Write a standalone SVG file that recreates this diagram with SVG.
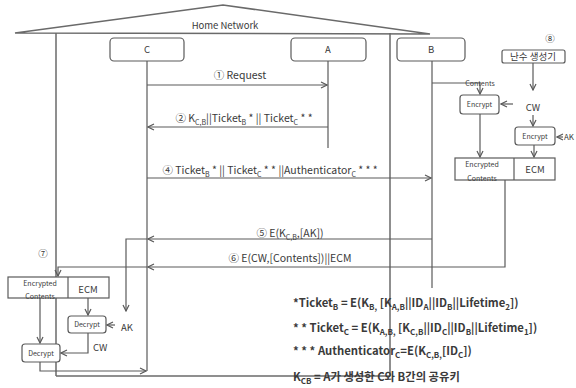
<svg xmlns="http://www.w3.org/2000/svg" width="576" height="388" viewBox="0 0 576 388">
<defs>
<style>
.ln{stroke:#5a5a5a;stroke-width:1.2;fill:none}
.wall{stroke:#6a6a6a;stroke-width:1.5;fill:none}
.box{fill:#fff;stroke:#5a5a5a;stroke-width:1.2}
text{font-family:"Noto Sans CJK KR","Liberation Sans",sans-serif;fill:#3a3a3a}
.msg{font-size:10.5px}
.sm{font-size:7px}
.md{font-size:9.5px}
.fn{font-size:11.3px;font-weight:600}
.c{text-anchor:middle}
</style>
<marker id="ar" viewBox="0 0 8 8" refX="7" refY="4" markerWidth="8" markerHeight="8" orient="auto" markerUnits="userSpaceOnUse">
<path d="M1,1 L7,4 L1,7" fill="none" stroke="#5a5a5a" stroke-width="1.2"/>
</marker>
</defs>
<rect width="576" height="388" fill="#fff"/>

<g id="house">
<polygon points="15,33 223,5 430,34" class="wall"/>
<line x1="56" y1="33" x2="56" y2="376" class="wall"/>
<line x1="390" y1="33" x2="390" y2="376" class="wall"/>
<line x1="56" y1="376" x2="390" y2="376" class="wall"/>
<text x="225" y="29" class="md c">Home Network</text>
</g>

<g id="node-C">
<rect x="110" y="38" width="74" height="23" rx="4" class="box"/>
<text x="147" y="53" class="md c">C</text>
</g>
<g id="node-A">
<rect x="291" y="38" width="75" height="23" rx="4" class="box"/>
<text x="328" y="53" class="md c">A</text>
</g>
<g id="node-B">
<rect x="397" y="38" width="68" height="23" rx="4" class="box"/>
<text x="431" y="53" class="md c">B</text>
</g>

<g id="rng">
<text x="550" y="42" class="md c">⑧</text>
<rect x="502" y="50" width="63" height="13" rx="2" class="box"/>
<text x="533" y="60" class="md c">난수 생성기</text>
</g>
<g id="encrypt1">
<rect x="460" y="95" width="39" height="19" rx="3" class="box"/>
<text x="479.5" y="107" class="sm c">Encrypt</text>
</g>
<g id="encrypt2">
<rect x="515" y="127" width="40" height="18" rx="3" class="box"/>
<text x="535" y="139" class="sm c">Encrypt</text>
</g>
<g id="enc-box-B">
<rect x="455" y="158" width="100" height="22" class="box"/>
<line x1="514" y1="158" x2="514" y2="180" class="ln"/>
<text x="482" y="167" class="sm c">Encrypted</text>
<text x="482" y="181" class="sm c">Contents</text>
<text x="535" y="173" class="md c">ECM</text>
</g>

<g id="enc-box-C">
<text x="43" y="257" class="md c">⑦</text>
<rect x="8" y="277" width="101" height="21" class="box"/>
<line x1="68" y1="277" x2="68" y2="298" class="ln"/>
<text x="40" y="286" class="sm c">Encrypted</text>
<text x="40" y="299" class="sm c">Contents</text>
<text x="88" y="293" class="md c">ECM</text>
</g>
<g id="decrypt1">
<rect x="68" y="316" width="38" height="17" rx="3" class="box"/>
<text x="87" y="327" class="sm c">Decrypt</text>
</g>
<g id="decrypt2">
<rect x="22" y="344" width="38" height="18" rx="3" class="box"/>
<text x="41" y="356" class="sm c">Decrypt</text>
</g>

<g id="connectors">
<line x1="147" y1="61" x2="147" y2="371" class="ln"/>
<line x1="328" y1="61" x2="328" y2="148" class="ln"/>
<line x1="432" y1="61" x2="432" y2="288" class="ln"/>
<line x1="147" y1="85" x2="327" y2="85" class="ln" marker-end="url(#ar)"/>
<line x1="328" y1="127" x2="148" y2="127" class="ln" marker-end="url(#ar)"/>
<line x1="147" y1="178" x2="431" y2="178" class="ln" marker-end="url(#ar)"/>
<line x1="432" y1="239" x2="148" y2="239" class="ln" marker-end="url(#ar)"/>
<path d="M147,239 H126 V311" class="ln" marker-end="url(#ar)"/>
<path d="M505,180 V267 H148" class="ln" marker-end="url(#ar)"/>
<path d="M147,267 H58 V276" class="ln" marker-end="url(#ar)"/>
<path d="M432,83 H480 V94" class="ln" marker-end="url(#ar)"/>
<line x1="533" y1="63" x2="533" y2="90" class="ln" marker-end="url(#ar)"/>
<line x1="533" y1="115" x2="533" y2="126" class="ln" marker-end="url(#ar)"/>
<line x1="513" y1="104" x2="501" y2="104" class="ln" marker-end="url(#ar)"/>
<line x1="563" y1="137" x2="557" y2="137" class="ln" marker-end="url(#ar)"/>
<line x1="480" y1="114" x2="480" y2="157" class="ln" marker-end="url(#ar)"/>
<line x1="534" y1="145" x2="534" y2="157" class="ln" marker-end="url(#ar)"/>
<line x1="88" y1="298" x2="88" y2="315" class="ln" marker-end="url(#ar)"/>
<line x1="115" y1="325" x2="107" y2="325" class="ln" marker-end="url(#ar)"/>
<path d="M88,333 V353 H61" class="ln" marker-end="url(#ar)"/>
<line x1="40" y1="298" x2="40" y2="343" class="ln" marker-end="url(#ar)"/>
<path d="M40,362 V371 H146" class="ln" marker-end="url(#ar)"/>
</g>

<g id="labels">
<text x="480" y="86" class="sm c">Contents</text>
<text x="533" y="111" class="md c">CW</text>
<text x="564" y="140" font-size="8">AK</text>
<text x="121" y="331" class="md">AK</text>
<text x="93" y="351" class="md">CW</text>
<text x="240" y="79" class="msg c">① Request</text>
<text x="244" y="122" class="msg c">② K<tspan dy="2.5" font-size="7">C,B</tspan><tspan dy="-2.5">||Ticket</tspan><tspan dy="2.5" font-size="7">B</tspan><tspan dy="-2.5"> * || Ticket</tspan><tspan dy="2.5" font-size="7">C</tspan><tspan dy="-2.5"> * *</tspan></text>
<text x="270" y="174" class="msg c">④ Ticket<tspan dy="2.5" font-size="7">B</tspan><tspan dy="-2.5"> * || Ticket</tspan><tspan dy="2.5" font-size="7">C</tspan><tspan dy="-2.5"> * * ||Authenticator</tspan><tspan dy="2.5" font-size="7">C</tspan><tspan dy="-2.5"> * * *</tspan></text>
<text x="290" y="237" class="msg c">⑤ E(K<tspan dy="2.5" font-size="7">C,B</tspan><tspan dy="-2.5">,[AK])</tspan></text>
<text x="290" y="262" class="msg c">⑥ E(CW,[Contents])||ECM</text>
<text x="293" y="307" class="fn">*Ticket<tspan dy="3" font-size="8">B</tspan><tspan dy="-3"> = E(K</tspan><tspan dy="3" font-size="8">B,</tspan><tspan dy="-3"> [K</tspan><tspan dy="3" font-size="8">A,B</tspan><tspan dy="-3">||ID</tspan><tspan dy="3" font-size="8">A</tspan><tspan dy="-3">||ID</tspan><tspan dy="3" font-size="8">B</tspan><tspan dy="-3">||Lifetime</tspan><tspan dy="3" font-size="8">2</tspan><tspan dy="-3">])</tspan></text>
<text x="293" y="332" class="fn">* * Ticket<tspan dy="3" font-size="8">C</tspan><tspan dy="-3"> = E(K</tspan><tspan dy="3" font-size="8">A,B,</tspan><tspan dy="-3"> [K</tspan><tspan dy="3" font-size="8">C,B</tspan><tspan dy="-3">||ID</tspan><tspan dy="3" font-size="8">C</tspan><tspan dy="-3">||ID</tspan><tspan dy="3" font-size="8">B</tspan><tspan dy="-3">||Lifetime</tspan><tspan dy="3" font-size="8">1</tspan><tspan dy="-3">])</tspan></text>
<text x="293" y="355" class="fn">* * * Authenticator<tspan dy="3" font-size="8">C</tspan><tspan dy="-3">=E(K</tspan><tspan dy="3" font-size="8">C,B,</tspan><tspan dy="-3">[ID</tspan><tspan dy="3" font-size="8">C</tspan><tspan dy="-3">])</tspan></text>
<text x="293" y="381" class="fn">K<tspan dy="3" font-size="8">CB</tspan><tspan dy="-3"> = A가 생성한 C와 B간의 공유키</tspan></text>
</g>
</svg>
